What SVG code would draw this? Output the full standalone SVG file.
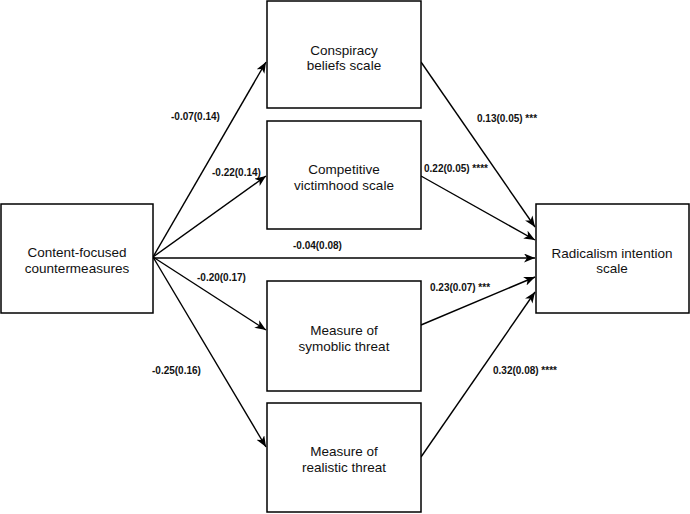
<svg xmlns="http://www.w3.org/2000/svg" width="690" height="514" viewBox="0 0 690 514">
<style>
.box{fill:#fff;stroke:#000;stroke-width:1.5}
.nt{font-family:"Liberation Sans",Arial,sans-serif;font-size:13.5px;fill:#111;text-anchor:middle}
.lb{font-family:"Liberation Sans",Arial,sans-serif;font-size:10px;font-weight:bold;fill:#111}
.ln{fill:none;stroke:#000;stroke-width:1.4}
</style>
<defs>
<marker id="ar" markerUnits="userSpaceOnUse" markerWidth="12" markerHeight="10" refX="11" refY="4.5" orient="auto">
<path d="M0,0 L11,4.5 L0,9 L3,4.5 z" fill="#000"/>
</marker>
</defs>
<g id="connectors">
<line class="ln" x1="153" y1="257" x2="266" y2="62" marker-end="url(#ar)"/>
<line class="ln" x1="153" y1="257" x2="266" y2="176" marker-end="url(#ar)"/>
<line class="ln" x1="153" y1="258" x2="535" y2="258" marker-end="url(#ar)"/>
<line class="ln" x1="153" y1="257" x2="266" y2="330" marker-end="url(#ar)"/>
<line class="ln" x1="153" y1="257" x2="266" y2="447" marker-end="url(#ar)"/>
<line class="ln" x1="421" y1="62" x2="535" y2="227" marker-end="url(#ar)"/>
<line class="ln" x1="421" y1="176" x2="535" y2="240" marker-end="url(#ar)"/>
<line class="ln" x1="421" y1="325" x2="535" y2="277" marker-end="url(#ar)"/>
<line class="ln" x1="421" y1="457" x2="535" y2="292" marker-end="url(#ar)"/>
</g>
<g id="labels">
<text class="lb" x="171" y="120">-0.07(0.14)</text>
<text class="lb" x="212" y="176">-0.22(0.14)</text>
<text class="lb" x="293" y="249">-0.04(0.08)</text>
<text class="lb" x="197" y="281">-0.20(0.17)</text>
<text class="lb" x="152" y="374">-0.25(0.16)</text>
<text class="lb" x="477" y="122">0.13(0.05) ***</text>
<text class="lb" x="424" y="172">0.22(0.05) ****</text>
<text class="lb" x="430" y="291">0.23(0.07) ***</text>
<text class="lb" x="493" y="374">0.32(0.08) ****</text>
</g>
<g id="n-content">
<rect class="box" x="1" y="204" width="152" height="109"/>
<text class="nt" x="77" y="257">Content-focused</text>
<text class="nt" x="77" y="273">countermeasures</text>
</g>
<g id="n-conspiracy">
<rect class="box" x="267" y="1" width="154" height="107"/>
<text class="nt" x="344" y="55">Conspiracy</text>
<text class="nt" x="344" y="70">beliefs scale</text>
</g>
<g id="n-competitive">
<rect class="box" x="267" y="121" width="154" height="108"/>
<text class="nt" x="344" y="174">Competitive</text>
<text class="nt" x="344" y="190">victimhood scale</text>
</g>
<g id="n-symbolic">
<rect class="box" x="267" y="281" width="154" height="110"/>
<text class="nt" x="344" y="335">Measure of</text>
<text class="nt" x="344" y="351">symoblic threat</text>
</g>
<g id="n-realistic">
<rect class="box" x="267" y="403" width="154" height="109"/>
<text class="nt" x="344" y="456">Measure of</text>
<text class="nt" x="344" y="472">realistic threat</text>
</g>
<g id="n-radicalism">
<rect class="box" x="536" y="204" width="153" height="109"/>
<text class="nt" x="612" y="258">Radicalism intention</text>
<text class="nt" x="612" y="273">scale</text>
</g>
</svg>
